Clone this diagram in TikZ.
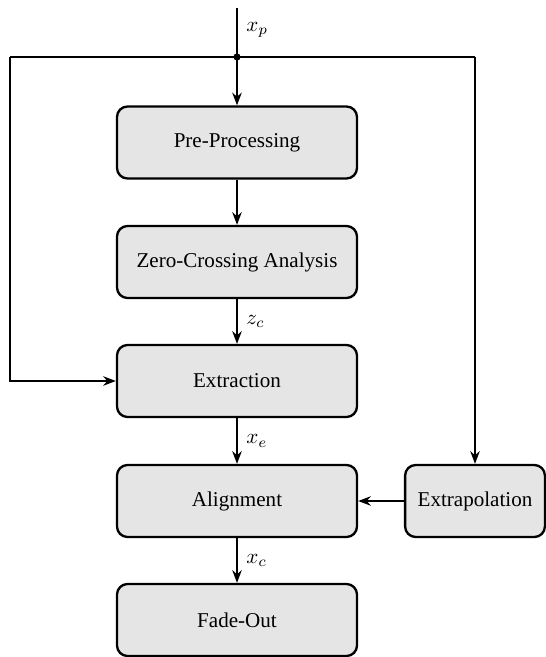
\documentclass[tikz,border=0pt]{standalone}
\usepackage{fontspec}
\setmainfont{Liberation Serif}
\usetikzlibrary{arrows.meta}
\begin{document}
\begin{tikzpicture}[x=1cm/60,y=-1cm/60,
  block/.style={draw,line width=1.1pt,fill=gray!20,rounded corners=5pt,minimum width=4cm,minimum height=1.2cm,inner sep=0pt,font=\normalsize},
  smallblock/.style={block,minimum width=2.33cm},
  conn/.style={line width=0.9pt,-{Stealth[length=6pt,width=4.5pt]}},
  wire/.style={line width=0.9pt},
  lab/.style={anchor=west,inner sep=2pt,xshift=2pt}]
\useasboundingbox (0,0) rectangle (545,657);
\node[block] (pre) at (237,142.5) {Pre-Processing};
\node[block] (zca) at (237,262) {Zero-Crossing Analysis};
\node[block] (ext) at (237,381) {Extraction};
\node[block] (ali) at (237,501) {Alignment};
\node[block] (fad) at (237,620) {Fade-Out};
\node[smallblock] (xtr) at (475,501) {Extrapolation};
\coordinate (in) at (237,8);
\coordinate (j) at (237,57);
\coordinate (lc) at (10,57);
\coordinate (ld) at (10,381);
\coordinate (rc) at (475,57);
\draw[wire] (in) -- node[lab,pos=0.45] {$x_p$} (j);
\fill (j) circle (1.7pt);
\draw[conn] (j) -- (pre);
\draw[conn] (lc) -- (ld) -- (ext.west);
\draw[wire] (lc) -- (rc);
\draw[conn] (rc) -- (xtr.north);
\draw[conn] (pre) -- (zca);
\draw[conn] (zca) -- node[lab] {$z_c$} (ext);
\draw[conn] (ext) -- node[lab] {$x_e$} (ali);
\draw[conn] (ali) -- node[lab] {$x_c$} (fad);
\draw[conn] (xtr) -- (ali);
\end{tikzpicture}
\end{document}
